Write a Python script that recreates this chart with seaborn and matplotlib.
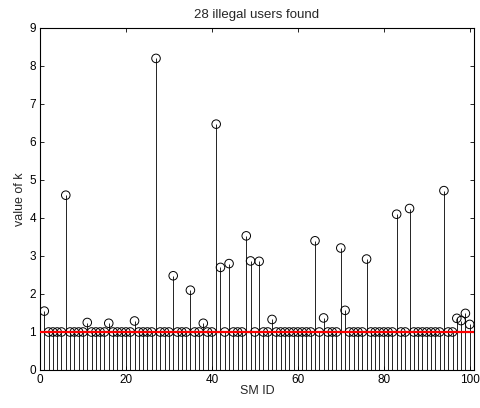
import matplotlib
matplotlib.use("Agg")
import matplotlib.pyplot as plt
import seaborn as sns
import numpy as np
import pandas as pd

sm_id = list(range(1, 101))
k_values = [
    1.55, 1, 1, 1, 1, 4.6, 1, 1, 1, 1,
    1.25, 1, 1, 1, 1, 1.23, 1, 1, 1, 1,
    1, 1.29, 1, 1, 1, 1, 8.2, 1, 1, 1,
    2.48, 1, 1, 1, 2.1, 1, 1, 1.23, 1, 1,
    6.47, 2.7, 1, 2.8, 1, 1, 1, 3.53, 2.87, 1,
    2.86, 1, 1, 1.33, 1, 1, 1, 1, 1, 1,
    1, 1, 1, 3.4, 1, 1.37, 1, 1, 1, 3.21,
    1.57, 1, 1, 1, 1, 2.92, 1, 1, 1, 1,
    1, 1, 4.1, 1, 1, 4.25, 1, 1, 1, 1,
    1, 1, 1, 4.72, 1, 1, 1.36, 1.3, 1.49, 1.2,
]
threshold = 1.0
x_ticks = [0, 20, 40, 60, 80, 100]
y_ticks = list(range(0, 10))

sns.set_style("ticks")
plt.rcParams['font.family'] = ['Liberation Sans', 'DejaVu Sans']
plt.rcParams['font.size'] = 8.5

df = pd.DataFrame({"SM ID": sm_id, "k": k_values})

fig = plt.figure(figsize=(4.81, 4.08), dpi=100)
ax = fig.add_axes([40/481, 38/408, 434/481, 342/408])

ax.vlines(df["SM ID"], 0, df["k"], color="black", linewidth=0.6, zorder=2)
sns.scatterplot(data=df, x="SM ID", y="k", ax=ax, marker="o", s=38,
                facecolors="none", edgecolor="black", linewidth=0.7, zorder=3)
ax.axhline(threshold, color="red", linewidth=1.6, zorder=4)

ax.set_xlim(0, 101)
ax.set_ylim(0, 9)
ax.set_xticks(x_ticks)
ax.set_yticks(y_ticks)
ax.tick_params(direction="in", length=3, width=0.6, top=True, right=True,
               labelsize=8.5, pad=3, colors="black")
for sp in ax.spines.values():
    sp.set_visible(True)
    sp.set_linewidth(0.8)
    sp.set_color("black")

ax.set_title("28 illegal users found", fontsize=9.5, pad=7)
ax.set_xlabel("SM ID", fontsize=9, labelpad=-1)
ax.set_ylabel("value of k", fontsize=9, labelpad=2)

fig.savefig("out.png", dpi=100)
